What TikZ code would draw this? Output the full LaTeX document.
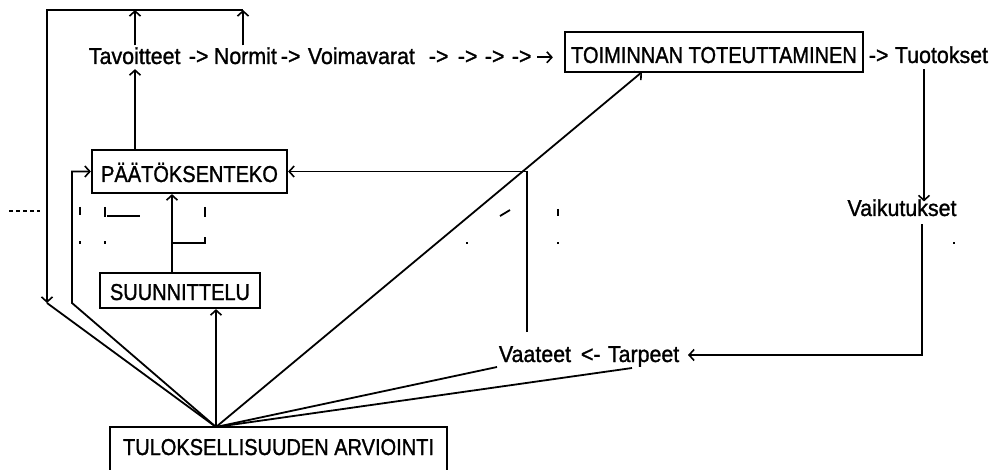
\documentclass[tikz,border=0pt]{standalone}
\usepackage{fontspec}
\setmainfont{Liberation Sans}
\newfontfamily\capsfont{Liberation Sans}[FakeStretch=0.87,FakeBold=1.2]
\newfontfamily\lowfont{Liberation Sans}[FakeStretch=0.93,FakeBold=1.2]
\usetikzlibrary{arrows.meta,calc}
\begin{document}
\begin{tikzpicture}[x=1pt,y=-1pt,
  line width=1.8pt,
  arr/.style={-{Straight Barb[length=5pt,width=11pt,line width=1.6pt]}},
  txt/.style={font=\lowfont\fontsize{23}{25}\selectfont, inner sep=1pt, anchor=base west},
  box/.style={draw, line width=2.2pt, font=\capsfont\fontsize{23}{25}\selectfont,
              inner xsep=0pt, inner ysep=2pt, anchor=base},
  frag/.style={line width=1.8pt}
]
\useasboundingbox (0,0) rectangle (992,470);
\clip (0,0) rectangle (992,470);
\fill[white] (0,0) rectangle (992,470);

% ---- text line at the top
\node[txt] (tav) at (87,64) {Tavoitteet};
\node[txt] (a1) at (187,64) {->};
\node[txt] (norm) at (212,64) {Normit};
\node[txt] (a2) at (279,64) {->};
\node[txt] (voim) at (306,64) {Voimavarat};
\node[txt] (a3) at (427,64) {->};
\node[txt] (a4) at (456,64) {->};
\node[txt] (a5) at (483,64) {->};
\node[txt] (a6) at (510,64) {->};
\node[txt] (a8) at (867,63) {->};
\node[txt] (tuot) at (893,63) {Tuotokset};
\node[txt, anchor=base] (vaik) at (902,216) {Vaikutukset};
\node[txt] (vaat) at (497,362) {Vaateet};
\node[txt] (a9) at (579,362) {<-};
\node[txt] (tarp) at (606,362) {Tarpeet};

% ---- boxes
\node[box, minimum width=298pt, text height=29pt, text depth=7pt] (toim) at (714,63) {TOIMINNAN TOTEUTTAMINEN};
\node[box, minimum width=195pt, text height=30pt, text depth=9pt] (paat) at (189.5,182) {PÄÄTÖKSENTEKO};
\node[box, minimum width=160pt, text height=25pt, text depth=6pt] (suun) at (180,300) {SUUNNITTELU\hspace{6pt}};
\node[box, minimum width=337pt, text height=26pt, text depth=28pt] (tul) at (278.5,455) {TULOKSELLISUUDEN ARVIOINTI\hspace{10pt}};

% ---- named points
\coordinate (tl) at (47,10);
\coordinate (tm) at (135,10);
\coordinate (tr) at (243,10);
\coordinate (lb) at (47,303);
\coordinate (lb2) at (72,303);
\coordinate (fan) at (216,427);
\coordinate (sx) at (172,0);
\coordinate (toimin) at (642,72);
\coordinate (vaatin) at (497,367);
\coordinate (tarpin) at (632,368);
\coordinate (vtop) at (527,332);
\coordinate (tx) at (924,0);
\coordinate (rx) at (922,0);
\coordinate (tarparr) at (688,355);

% ---- connectors
\draw[arr] (tav.north -| tm) -- (tm);
\draw[arr] (norm.north -| tr) -- (tr);
\draw[arr] (tr) -- (tl) -- (lb);
\draw (lb) -- (fan);
\draw[arr] (paat.north -| tm) -- ($(tav.south -| tm)+(0,3)$);
\draw[arr, shorten <=4pt, shorten >=11pt] (a6.east) -- (a6.east -| toim.west);
\draw[arr] (fan) -- (lb2) |- (paat.west);
\draw[arr] (fan) -- (fan |- suun.south);
\draw[arr] (suun.north -| sx) -- (paat.south -| sx);
\draw[arr] (fan) -- (toimin);
\draw (fan) -- (vaatin);
\draw (fan) -- (tarpin);
\draw[arr] (vtop) |- (paat.east);
\draw[arr] ($(tuot.south -| tx)+(0,4)$) -- ($(vaik.north -| tx)+(0,4)$);
\draw[arr] ($(vaik.south -| rx)+(0,6)$) |- (tarparr);

% ---- faint broken fragments
\draw[frag, dash pattern=on 4pt off 3pt] (9,211) -- (40,211);
\draw[frag] (80,207) -- (80,215);
\draw[frag] (80,241) -- (80,244);
\draw[frag] (105,207) -- (105,217);
\draw[frag] (107,216) -- (140,216);
\draw[frag] (105,241) -- (105,244);
\draw[frag] (172,243) -- (205,243) -- (205,237);
\draw[frag] (205,207) -- (205,217);
\draw[frag] (500,216) -- (510,210);
\draw[frag] (467,242) -- (467,244);
\draw[frag] (558,209) -- (558,216);
\draw[frag] (558,242) -- (558,244);
\draw[frag] (954,242) -- (954,244);
\end{tikzpicture}
\end{document}
